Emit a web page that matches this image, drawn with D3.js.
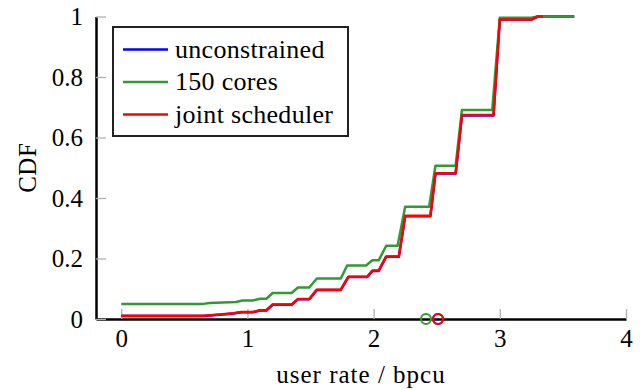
<!DOCTYPE html>
<html>
  <head>
    <style>
    body {
      margin: 0;
      background: #fff;
    }
    svg text {
      font-family: "Liberation Serif", "Times New Roman", serif;
      fill: #000;
    }
    </style>
  </head>
  <body>
    <script src="https://d3js.org/d3.v7.min.js"></script>
    <script>

// CDF samples: [user rate, CDF]
var unconstrained = [[0,0.010],[0.65,0.010],[0.78,0.014],[0.89,0.018],[0.95,0.022],[1.04,0.022],[1.10,0.028],[1.15,0.028],
  [1.20,0.047],[1.35,0.047],[1.40,0.065],[1.49,0.065],[1.55,0.096],[1.74,0.096],[1.80,0.139],[1.95,0.139],[1.99,0.159],
  [2.04,0.159],[2.10,0.206],[2.20,0.206],[2.25,0.340],[2.45,0.340],[2.49,0.481],[2.65,0.481],[2.70,0.673],[2.95,0.673],
  [3.00,0.990],[3.25,0.990],[3.30,1.0],[3.59,1.0]];

var cores150 = [[0,0.05],[0.65,0.05],[0.70,0.053],[0.91,0.056],[0.96,0.061],[1.04,0.061],[1.10,0.067],[1.15,0.067],
  [1.20,0.086],[1.35,0.086],[1.40,0.104],[1.49,0.104],[1.55,0.134],[1.74,0.134],[1.79,0.177],[1.94,0.177],[1.99,0.194],
  [2.04,0.194],[2.10,0.242],[2.19,0.242],[2.25,0.371],[2.44,0.371],[2.49,0.507],[2.65,0.507],[2.70,0.691],[2.94,0.691],
  [3.00,0.996],[3.25,0.996],[3.30,1.0],[3.59,1.0]];

var jointScheduler = [[0,0.011],[0.65,0.011],[0.78,0.015],[0.89,0.019],[0.95,0.023],[1.04,0.023],[1.10,0.029],[1.15,0.029],
  [1.20,0.048],[1.35,0.048],[1.40,0.066],[1.49,0.066],[1.55,0.097],[1.74,0.097],[1.80,0.140],[1.95,0.140],[1.99,0.160],
  [2.04,0.160],[2.10,0.207],[2.20,0.207],[2.25,0.341],[2.45,0.341],[2.49,0.482],[2.65,0.482],[2.70,0.674],[2.95,0.674],
  [3.00,0.990],[3.25,0.990],[3.30,1.0],[3.34,1.0]];

var seriesNames = ["unconstrained", "150 cores", "joint scheduler"];
var seriesColors = ["#0000ff", "#339933", "#ff0000"];
var meanRates = [2.51, 2.415, 2.51];

var xTicks = [0, 1, 2, 3, 4];
var yTicks = [0, 0.2, 0.4, 0.6, 0.8, 1];

var width = 640, height = 390;
var serif = "'Liberation Serif', 'Times New Roman', serif";

var x = d3.scaleLinear().domain([-0.2, 4]).range([96, 626]);
var y = d3.scaleLinear().domain([0, 1]).range([319, 16.5]);

var svg = d3.select("body").append("svg")
    .attr("width", width)
    .attr("height", height)
    .attr("font-family", serif);

// axes: only left and bottom lines, gray ticks pointing inwards
var xAxis = svg.append("g")
    .attr("transform", "translate(0," + y(0) + ")")
    .call(d3.axisBottom(x).tickValues(xTicks).tickFormat(function(d){ return String(d); })
      .tickSizeInner(-10).tickSizeOuter(0).tickPadding(10));

var yAxis = svg.append("g")
    .attr("transform", "translate(" + x(-0.2) + ",0)")
    .call(d3.axisLeft(y).tickValues(yTicks).tickFormat(function(d){ return String(d); })
      .tickSizeInner(-10).tickSizeOuter(0).tickPadding(13));

[xAxis, yAxis].forEach(function(a){
  a.attr("font-family", serif).attr("font-size", 25);
  a.selectAll(".tick line").style("stroke", "#b0b0b0").style("stroke-width", 1.3);
  a.select(".domain").style("stroke", "#000").style("stroke-width", 2.5);
  a.selectAll("text").style("font-family", serif).style("font-size", "25px");
});
xAxis.selectAll("text").attr("dy", "0.71em");
yAxis.selectAll("text").attr("dy", "0.32em");

svg.append("text")
    .attr("x", (x(-0.2) + x(4)) / 2)
    .attr("y", 383)
    .attr("text-anchor", "middle")
    .style("font-size", "25px")
    .style("letter-spacing", "1px")
    .text("user rate / bpcu");

svg.append("text")
    .attr("transform", "translate(36," + (y(0) + y(1)) / 2 + ") rotate(-90)")
    .attr("text-anchor", "middle")
    .style("font-size", "25px")
    .style("letter-spacing", "0.5px")
    .text("CDF");

var line = d3.line()
    .x(function(d){ return x(d[0]); })
    .y(function(d){ return y(d[1]); });

var allSeries = [unconstrained, cores150, jointScheduler];

svg.selectAll(".cdf")
    .data(allSeries)
  .enter().append("path")
    .attr("class", "cdf")
    .attr("d", line)
    .style("fill", "none")
    .style("stroke", function(d, i){ return seriesColors[i]; })
    .style("stroke-width", 2.5)
    .style("stroke-linejoin", "round");

svg.selectAll(".mean")
    .data(meanRates)
  .enter().append("circle")
    .attr("class", "mean")
    .attr("cx", function(d){ return x(d); })
    .attr("cy", y(0))
    .attr("r", 5)
    .style("fill", "none")
    .style("stroke", function(d, i){ return seriesColors[i]; })
    .style("stroke-width", 2);

// legend
var legend = svg.append("g");

legend.append("rect")
    .attr("x", 113)
    .attr("y", 27)
    .attr("width", 235)
    .attr("height", 109)
    .style("fill", "#fff")
    .style("stroke", "#222")
    .style("stroke-width", 2);

var items = legend.selectAll(".item")
    .data(seriesNames)
  .enter().append("g")
    .attr("class", "item")
    .attr("transform", function(d, i){ return "translate(0," + (49.5 + i * 32.5) + ")"; });

items.append("line")
    .attr("x1", 123)
    .attr("x2", 168)
    .style("stroke", function(d, i){ return seriesColors[i]; })
    .style("stroke-width", 2.5);

items.append("text")
    .attr("x", 175)
    .attr("y", 8)
    .style("font-size", "26px")
    .style("letter-spacing", "0.3px")
    .text(function(d){ return d; });

    </script>
  </body>
</html>
